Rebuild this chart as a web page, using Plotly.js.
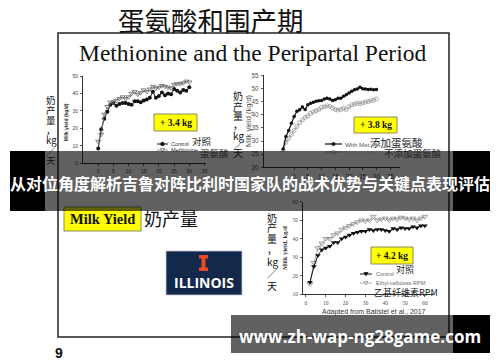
<!DOCTYPE html>
<html><head><meta charset="utf-8">
<script src="https://cdn.plot.ly/plotly-3.0.1.min.js"></script>
<style>html,body{margin:0;padding:0;background:#fff;}#chart{width:500px;height:362px;}</style>
</head><body><div id="chart"></div>
<script>
// ---------- data ----------
const days1 = [0,1,2,3,4,5,6,7,8,9,10,11,12,13,14,15,16,17,18,19,20,21,22,23,24,25,26,27,28,29,30];
const control1 = [8.5,19.5,25.5,29.5,33.5,34.5,33,34,34.5,34.5,34,33.5,35.5,35.5,35,36,36.5,37.5,41,37.5,38.5,40.5,39,40,39.5,42.5,41.5,40.5,42,41.5,43.5];
const methionine1 = [12.5,16.5,28,32.5,35,35,36,37,38,37,38,40,41,39.5,40.5,42,41,42.5,44,43,43.5,44.5,44,43.5,43,45,45.5,45.5,46,47,46.5];

const days2 = [-4,-3,-2,-1,0,1,2,3,4,5,6,7,8,9,10,11,12,13,14,15,16,17,18,19,20,21,22,23,24,25,26,27,28,29,30];
const withMet2 = [27,31.7,34,36.8,39.3,41.3,41.9,42.9,42,43.8,44.4,44.7,45.1,45.3,45.4,46,46.3,46,45.4,45.7,46.3,46.3,47,47.6,48.3,48.9,49.5,49.8,50.5,49.9,49.8,49.6,49.7,49.5,49.6];
const withoutMet2 = [26.6,29.5,31,32.5,34,35.5,37,38,39,39.5,40.5,41,41.5,42,42.8,43,43.4,43.2,42.5,42,41.8,42,42.5,42,43,43.8,44,44.4,44.2,44.5,44.8,45,45.3,45.5,46];

const days3 = [2,4,6,8,10,12,14,16,18,20,22,24,26,28,30,32,34,36,38,40,42,44,46,48,50,52,54,56,58,60];
const control3 = [16.5,25,31,34,35,36,38,38,40,41,42,43,43.5,44,44,45,44.5,45,45,44.5,44,45.5,45,46,45.5,45.5,46.5,46,47,47];
const rpm3 = [15.5,27,35,37.5,40,40,42,43,45,46,47,48,49,50,49.5,50,52,50,50.5,51,50,51,50.5,51.5,51,50.5,51,50,51,52];

const xTicks1 = [0,5,10,15,20,25,30,35];
const yTicks1 = [0,10,20,30,40,50];
const xTicks2 = [0,5,10,15,20,25,30,35];
const yTicks2 = [20,25,30,35,40,45,50,55];
const xTicks3 = [0,10,20,30,40,50,60];
const yTicks3 = [10,20,30,40,50,60];

const names1 = ['Control','Methionine'];
const names2 = ['With Met','Without Met'];
const names3 = ['Control','Ethyl-cellulose RPM'];

// ---------- helpers ----------
const W = 500, H = 362;
const X = p => p / W;
const Y = p => 1 - p / H;
const CJK = '"Noto Sans CJK SC", "Noto Sans", sans-serif';
const SERIF = '"Liberation Serif", "DejaVu Serif", serif';
const SANS = 'Arial, "Liberation Sans", sans-serif';

function txt(x, y, text, size, o) {
  o = o || {};
  return {xref:'paper', yref:'paper', x:X(x), y:Y(y), text:text, showarrow:false,
    xanchor:o.xa || 'center', yanchor:o.ya || 'middle', textangle:o.angle || 0, borderpad:0,
    font:{size:size, color:o.color || '#111', family:o.family || SANS}};
}
function rect(x0, y0, x1, y1, fill, lc, lw) {
  return {type:'rect', xref:'paper', yref:'paper', x0:X(x0), x1:X(x1), y0:Y(y0), y1:Y(y1),
    fillcolor:fill, line:{color:lc || 'rgba(0,0,0,0)', width:lw || 0}, layer:'above'};
}
function seg(x0, y0, x1, y1, color, w) {
  return {type:'line', xref:'paper', yref:'paper', x0:X(x0), x1:X(x1), y0:Y(y0), y1:Y(y1),
    line:{color:color, width:w}, layer:'above'};
}
function dot(cx, cy, r, fill, lc) {
  return {type:'circle', xref:'paper', yref:'paper', x0:X(cx-r), x1:X(cx+r), y0:Y(cy+r), y1:Y(cy-r),
    fillcolor:fill, line:{color:lc, width:0.8}, layer:'above'};
}
function tri(cx, cy, s, fill, lc) {
  const p = 'M' + X(cx-s) + ',' + Y(cy-s*0.7) + ' L' + X(cx+s) + ',' + Y(cy-s*0.7) + ' L' + X(cx) + ',' + Y(cy+s*0.9) + ' Z';
  return {type:'path', xref:'paper', yref:'paper', path:p, fillcolor:fill, line:{color:lc, width:0.8}, layer:'above'};
}
function axis(d0, d1, range, tickvals, size, color, family, anchor, isY) {
  return {domain: isY ? [Y(d0), Y(d1)] : [X(d0), X(d1)], range:range, tickvals:tickvals,
    showline:true, linecolor:'#333', linewidth:1, ticks:'outside', ticklen:2, tickwidth:0.8, tickcolor:'#333',
    tickfont:{size:size, color:color, family:family}, showgrid:false, zeroline:false, anchor:anchor,
    fixedrange:true, ticklabelstandoff:1};
}

// ---------- traces ----------
const traces = [
  {x:days1, y:control1, name:names1[0], xaxis:'x', yaxis:'y', mode:'lines+markers',
   line:{color:'#111', width:1}, marker:{symbol:'circle', size:4, color:'#111'}},
  {x:days1, y:methionine1, name:names1[1], xaxis:'x', yaxis:'y', mode:'lines+markers',
   line:{color:'#777', width:0.8}, marker:{symbol:'triangle-down-open', size:4.5, color:'#666', line:{width:0.8}}},
  {x:days2, y:withoutMet2, name:names2[1], xaxis:'x2', yaxis:'y2', mode:'lines+markers',
   line:{color:'#999', width:0.8}, marker:{symbol:'circle-open', size:4, color:'#999', line:{width:0.8}}},
  {x:days2, y:withMet2, name:names2[0], xaxis:'x2', yaxis:'y2', mode:'lines+markers',
   line:{color:'#111', width:1.2}, marker:{symbol:'circle', size:3.5, color:'#111'}},
  {x:days3, y:rpm3, name:names3[1], xaxis:'x3', yaxis:'y3', mode:'lines+markers',
   line:{color:'#999', width:0.8}, marker:{symbol:'triangle-down-open', size:5, color:'#888', line:{width:0.8}}},
  {x:days3, y:control3, name:names3[0], xaxis:'x3', yaxis:'y3', mode:'lines+markers',
   line:{color:'#111', width:1}, marker:{symbol:'triangle-down', size:5, color:'#111'}}
];

// ---------- shapes ----------
const shapes = [
  rect(58, 337, 449, 33, 'rgba(0,0,0,0)', '#222', 1.5),
  // yellow boxes
  rect(154, 131, 197, 114, '#ffff00', '#8a8a60', 1),
  rect(354, 133, 397, 117, '#ffff00', '#8a8a60', 1),
  rect(371, 264, 413, 247, '#ffff00', '#8a8a60', 1),
  rect(64, 231, 141, 207, '#ffff00', '#8a8a60', 1),
  // Illinois logo
  rect(166, 295, 242, 251, '#13294b', '#c8c8d0', 0.8),
  {type:'path', xref:'paper', yref:'paper', layer:'above', fillcolor:'#e84a27', line:{width:0},
   path:'M'+X(199)+','+Y(255)+' L'+X(208)+','+Y(255)+' L'+X(208)+','+Y(258.5)+' L'+X(205.5)+','+Y(258.5)+
        ' L'+X(205.5)+','+Y(267.5)+' L'+X(208)+','+Y(267.5)+' L'+X(208)+','+Y(271)+' L'+X(199)+','+Y(271)+
        ' L'+X(199)+','+Y(267.5)+' L'+X(201.5)+','+Y(267.5)+' L'+X(201.5)+','+Y(258.5)+' L'+X(199)+','+Y(258.5)+' Z'},
  // legend samples chart 1
  seg(157, 144, 168, 144, '#111', 1), dot(162.5, 144, 1.8, '#111', '#111'),
  seg(157, 150, 168, 150, '#777', 0.8), tri(162.5, 150, 2, 'rgba(255,255,255,1)', '#666'),
  // chart 2
  seg(325, 144, 342, 144, '#111', 1.2), dot(333.5, 144, 1.6, '#111', '#111'),
  seg(325, 152, 342, 152, '#999', 0.8), dot(333.5, 152, 1.8, '#fff', '#999'),
  // chart 3
  seg(360, 274, 372, 274, '#111', 1), tri(366, 274, 2, '#111', '#111'),
  seg(360, 283, 372, 283, '#999', 0.8), tri(366, 283, 2, '#fff', '#888'),
  // top banner
  rect(10, 211, 45, 151, '#000'),
  rect(453, 211, 490, 151, '#000'),
  rect(45, 211, 453, 151, 'rgba(0,0,0,0.62)'),
  // bottom banner
  rect(231, 353, 453, 315, 'rgba(0,0,0,0.62)'),
  rect(453, 353, 490, 315, '#000')
];

// ---------- annotations ----------
const ann = [
  txt(211, 19, '蛋氨酸和围产期', 26.5, {family:CJK, color:'#111'}),
  txt(252, 53, 'Methionine and the Peripartal Period', 23.5, {family:SERIF, color:'#111'}),
  txt(175.5, 122.5, '<b>+ 3.4 kg</b>', 9.5, {family:SERIF}),
  txt(375.5, 125, '<b>+ 3.8 kg</b>', 9.5, {family:SERIF}),
  txt(392, 255.5, '<b>+ 4.2 kg</b>', 9.5, {family:SERIF}),
  txt(102.5, 219, '<b>Milk Yield</b>', 14.5, {family:SERIF}),
  txt(143, 218, '奶产量', 18, {family:CJK, xa:'left'}),
  txt(204, 282, '<b>ILLINOIS</b>', 14, {family:'"Open Sans", sans-serif', color:'#fff'}),
  // axis titles
  txt(66, 122, '<b>Milk yield (kg/d)</b>', 5, {angle:-90, color:'#333'}),
  txt(249, 121, 'Milk yield (kg/d)', 7.5, {angle:-90, color:'#555'}),
  txt(284, 248, '<b>Milk yield, kg/d</b>', 6.5, {angle:-90, color:'#333', family:SERIF}),
  // legends
  txt(170, 144, 'Control', 5.5, {xa:'left', color:'#333'}),
  txt(170, 150, 'Methionine', 5.5, {xa:'left', color:'#333'}),
  txt(344, 144, 'With Met', 6.2, {xa:'left', color:'#555'}),
  txt(344, 152, 'Without Met', 6.2, {xa:'left', color:'#555'}),
  txt(375, 274, 'Control', 5.5, {xa:'left', color:'#666'}),
  txt(375, 283, 'Ethyl-cellulose RPM', 5.5, {xa:'left', color:'#666'}),
  txt(202, 141, '对照', 9.5, {family:CJK, color:'#222'}),
  txt(214, 153, '蛋氨酸', 9.5, {family:CJK, color:'#222'}),
  txt(369, 143, '添加蛋氨酸', 10.5, {family:CJK, xa:'left', color:'#222'}),
  txt(383, 153, '不添加蛋氨酸', 9.5, {family:CJK, xa:'left', color:'#222'}),
  txt(405, 269, '对照', 9, {family:CJK, color:'#222'}),
  txt(373, 292, '乙基纤维素RPM', 9, {family:CJK, xa:'left', color:'#222'}),
  txt(374, 312, 'Adapted from Batistel et al., 2017', 7, {color:'#333'}),
  txt(59, 353, '<b>9</b>', 14, {color:'#111'})
];
// vertical Chinese labels
const vchars = ['奶','产','量','，','kg','／','天'];
const v1 = [100,110,120,130,140,151,160];
const v2 = [95,106,115,125,136,145,152];
const v3 = [217,228,238,249,261,273,285];
vchars.forEach((c, i) => {
  ann.push(txt(51, v1[i], c, 9.5, {family:CJK, color:'#111'}));
  ann.push(txt(238, v2[i], c, 10, {family:CJK, color:'#111'}));
  ann.push(txt(272, v3[i], c, 10, {family:CJK, color:'#111'}));
});
// banner texts (on top)
ann.push(txt(250, 183, '<b>从对位角度解析吉鲁对阵比利时国家队的战术优势与关键点表现评估</b>', 16, {family:CJK, color:'#fff'}));
ann.push(txt(360, 336, '<b>www.zh-wap-ng28game.com</b>', 17, {family:'"Open Sans", sans-serif', color:'#fff'}));

const layout = {
  width:W, height:H, margin:{l:0, r:0, t:0, b:0}, showlegend:false,
  paper_bgcolor:'#fff', plot_bgcolor:'rgba(0,0,0,0)',
  xaxis: axis(83, 206, [-5, 35.5], xTicks1, 5, '#444', SANS, 'y', false),
  yaxis: axis(163.3, 76, [0, 50], yTicks1, 5, '#444', SANS, 'x', true),
  xaxis2: axis(264, 400, [-11, 38.6], xTicks2, 6.5, '#555', SANS, 'y2', false),
  yaxis2: axis(167.3, 75.3, [20, 55], yTicks2, 6.5, '#555', SANS, 'x2', true),
  xaxis3: axis(303, 434, [-1.5, 64.6], xTicks3, 5.5, '#555', SERIF, 'y3', false),
  yaxis3: axis(294.3, 201.7, [10, 60], yTicks3, 5.5, '#555', SERIF, 'x3', true),
  shapes:shapes, annotations:ann
};
Plotly.newPlot('chart', traces, layout, {staticPlot:true, displayModeBar:false});
</script></body></html>
